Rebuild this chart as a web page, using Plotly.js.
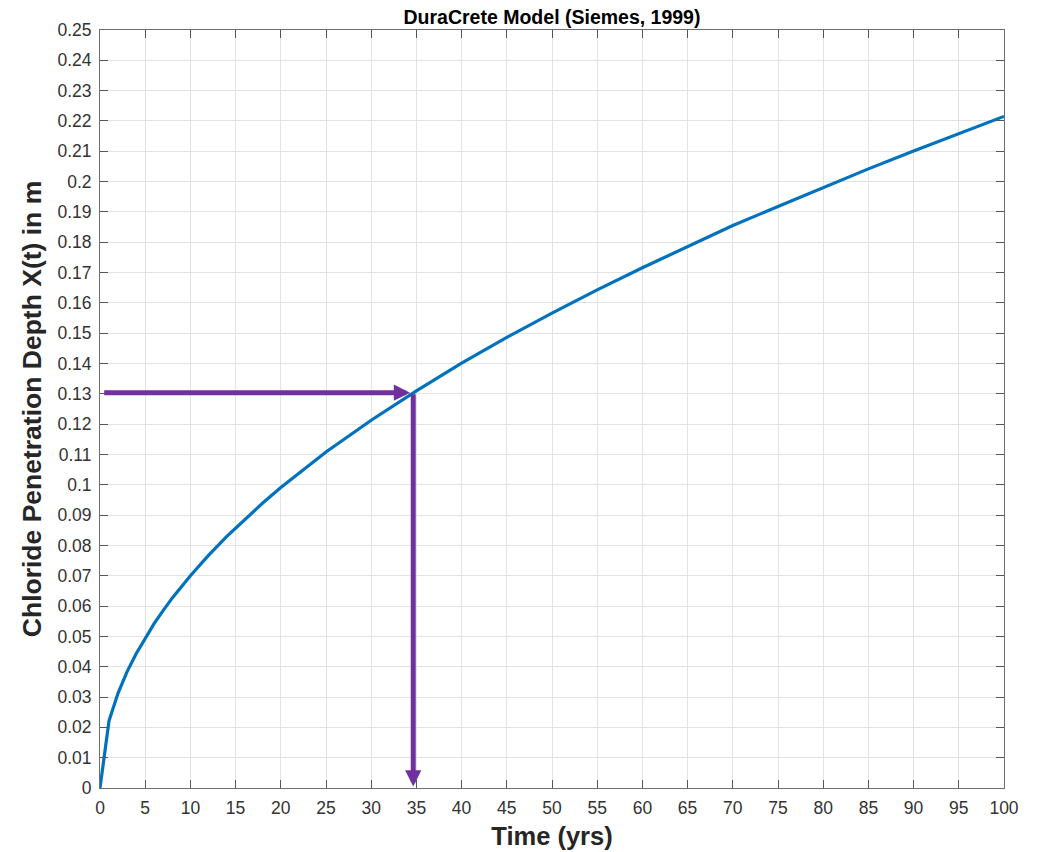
<!DOCTYPE html>
<html>
<head>
<meta charset="utf-8">
<script src="https://cdn.plot.ly/plotly-3.0.1.min.js"></script>
<style>html,body{margin:0;padding:0;background:#fff;}#chart{width:1043px;height:852px;}</style>
</head>
<body>
<div id="chart"></div>
<script>
// Time in years and chloride penetration depth X(t) in m
const timeYrs = [0, 1, 2, 3, 4, 5, 6, 7, 8, 10, 12, 14, 16, 18, 20, 25, 30, 35, 40, 45, 50, 55, 60, 65, 70, 75, 80, 85, 90, 95, 100];
const depthM  = [0, 0.0222, 0.0313, 0.0384, 0.0443, 0.0495, 0.0543, 0.0586, 0.0627, 0.0700, 0.0767, 0.0829, 0.0886, 0.0940, 0.0991, 0.1108, 0.1213, 0.1310, 0.1401, 0.1486, 0.1566, 0.1643, 0.1716, 0.1786, 0.1855, 0.1918, 0.1981, 0.2042, 0.2101, 0.2159, 0.2215];

// Reading arrows: target depth and the time it is reached
const targetDepth = 0.1304;
const targetTime = 34.65;
const hArrowStart = 0.3;
const hArrowTip = 34.3;
const vArrowTip = 0.0005;

// Tick values
const xTicks = [0,5,10,15,20,25,30,35,40,45,50,55,60,65,70,75,80,85,90,95,100];
const yTicks = [0,0.01,0.02,0.03,0.04,0.05,0.06,0.07,0.08,0.09,0.1,0.11,0.12,0.13,0.14,0.15,0.16,0.17,0.18,0.19,0.2,0.21,0.22,0.23,0.24,0.25];

const W = 1043, H = 852;
const purple = '#7030A0';
const FONT = 'Liberation Sans, Arial, sans-serif';

const trace = {
  x: timeYrs, y: depthM, type: 'scatter', mode: 'lines',
  line: {color: '#0072BD', width: 3.2}, hoverinfo: 'skip', showlegend: false
};

const axisCommon = {
  showline: true, linecolor: '#6e6e6e', linewidth: 1, mirror: 'ticks',
  ticks: 'inside', ticklen: 8, tickwidth: 1, tickcolor: '#555',
  showgrid: true, gridcolor: '#e3e3e3', gridwidth: 1, zeroline: false,
  tickfont: {family: FONT, size: 17.5, color: '#333'}
};

const layout = {
  width: W, height: H,
  margin: {l: 100, r: 39, t: 30, b: 64},
  paper_bgcolor: '#fff', plot_bgcolor: '#fff',
  title: {
    text: '<b>DuraCrete Model (Siemes, 1999)</b>',
    font: {family: FONT, size: 19.5, color: '#000'},
    x: 552 / W, xanchor: 'center', y: 1 - 17 / H, yanchor: 'middle'
  },
  xaxis: Object.assign({}, axisCommon, {
    range: [0, 100], tickvals: xTicks, ticktext: xTicks.map(String),
    ticklabelstandoff: 4,
    title: {text: '<b>Time (yrs)</b>', font: {family: FONT, size: 25.5, color: '#262626'}, standoff: 10}
  }),
  yaxis: Object.assign({}, axisCommon, {
    range: [0, 0.25], tickvals: yTicks, ticktext: yTicks.map(String),
    ticklabelstandoff: 4,
    title: {text: '<b>Chloride Penetration Depth X(t) in m</b>', font: {family: FONT, size: 26.5, color: '#262626'}, standoff: 8}
  }),
  annotations: [
    {x: hArrowTip, y: targetDepth, ax: hArrowStart, ay: targetDepth, xref: 'x', yref: 'y', axref: 'x', ayref: 'y',
     showarrow: true, arrowhead: 2, arrowsize: 0.65, arrowwidth: 5, arrowcolor: purple, standoff: 0, startstandoff: 0, text: ''},
    {x: targetTime, y: vArrowTip, ax: targetTime, ay: targetDepth, xref: 'x', yref: 'y', axref: 'x', ayref: 'y',
     showarrow: true, arrowhead: 2, arrowsize: 0.65, arrowwidth: 5, arrowcolor: purple, standoff: 0, startstandoff: 0, text: ''}
  ]
};

Plotly.newPlot('chart', [trace], layout, {staticPlot: true, displayModeBar: false});
</script>
</body>
</html>
